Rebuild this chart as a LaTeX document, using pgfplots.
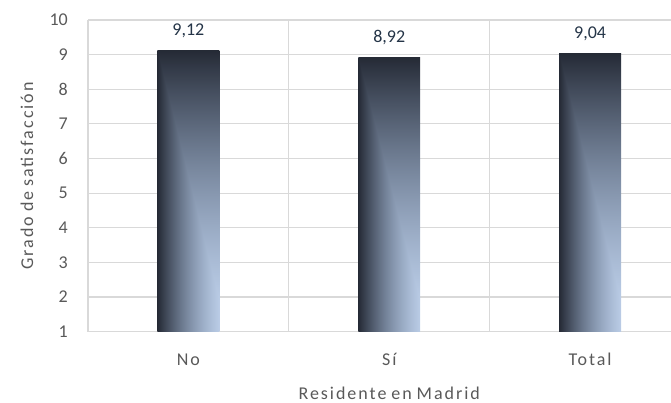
\documentclass[border=0pt]{standalone}
\usepackage{pgfplots}
\pgfplotsset{compat=1.18}
\usepackage{fontspec}
\setmainfont{Carlito}
\newfontfamily\labelfamily{Carlito}[LetterSpace=11]
\newfontfamily\xlabelfamily{Carlito}[LetterSpace=11,WordSpace=0.9]

\definecolor{gridgray}{HTML}{D9D9D9}
\definecolor{ticktext}{HTML}{595959}
\definecolor{valtext}{HTML}{243447}
\newcommand\chartfont{\fontsize{18}{21}\selectfont}
\newcommand\wordfont{\labelfamily\fontsize{18}{21}\selectfont}

% Corner gradient for the bars: dark along the top and left edges,
% light blue towards the lower right corner.
\pgfdeclarefunctionalshading{barshade}{\pgfpoint{-50bp}{-50bp}}{\pgfpoint{50bp}{50bp}}{}{
25 add 50 div 0.11 sub 0.89 div
exch 25 exch sub 50 div
2 copy sub abs add add 2 div
dup dup -0.21 mul -0.375 add mul 0.73 add exch
dup dup -0.27 mul -0.365 add mul 0.80 add exch
dup -0.34 mul -0.35 add mul 0.90 add
}

\begin{document}
\begin{tikzpicture}
\useasboundingbox (-88pt,-71.3pt) rectangle (583pt,331.7pt);
\begin{axis}[
  at={(0,0)}, anchor=south west,
  scale only axis, width=583pt, height=311.7pt,
  xmin=-0.5, xmax=2.403, ymin=1, ymax=10,
  ybar, bar width=0.308,
  axis lines=left,
  axis line style={-, draw=gridgray, line width=1.2pt},
  major tick length=0pt,
  xtick={0,1,2}, xticklabels={No,Sí,Total},
  extra x ticks={0.5,1.5}, extra x tick labels={},
  extra x tick style={grid=major},
  ytick={1,2,...,10},
  ymajorgrids,
  major grid style={draw=gridgray, line width=1.2pt},
  /pgf/number format/assume math mode=true,
  every tick label/.append style={font=\chartfont, text=ticktext},
  xticklabel style={font=\wordfont, anchor=base, yshift=-34pt},
  yticklabel style={anchor=east, inner sep=0pt, xshift=-20pt},
  xlabel={Residente en Madrid},
  ylabel={Grado de satisfacción},
  label style={font=\wordfont, text=ticktext},
  xlabel style={font=\xlabelfamily\fontsize{18}{21}\selectfont, at={(axis cs:1,1)}, anchor=base, yshift=-68pt},
  ylabel style={at={(axis description cs:-0.1046,0.5)}, anchor=center},
  nodes near coords={\pgfmathprintnumber[fixed, fixed zerofill, precision=2, use comma, assume math mode=true]{\pgfplotspointmeta}},
  every node near coord/.append style={font=\chartfont, text=valtext, anchor=base, yshift=15pt},
  bar shift=0pt,
]
% one plot per bar so each bar gets its own gradient
\addplot[shading=barshade, draw=none, bar shift=0pt] coordinates {(0,9.12)};
\addplot[shading=barshade, draw=none, bar shift=0pt] coordinates {(1,8.92)};
\addplot[shading=barshade, draw=none, bar shift=0pt] coordinates {(2,9.04)};
\end{axis}
\end{tikzpicture}
\end{document}
